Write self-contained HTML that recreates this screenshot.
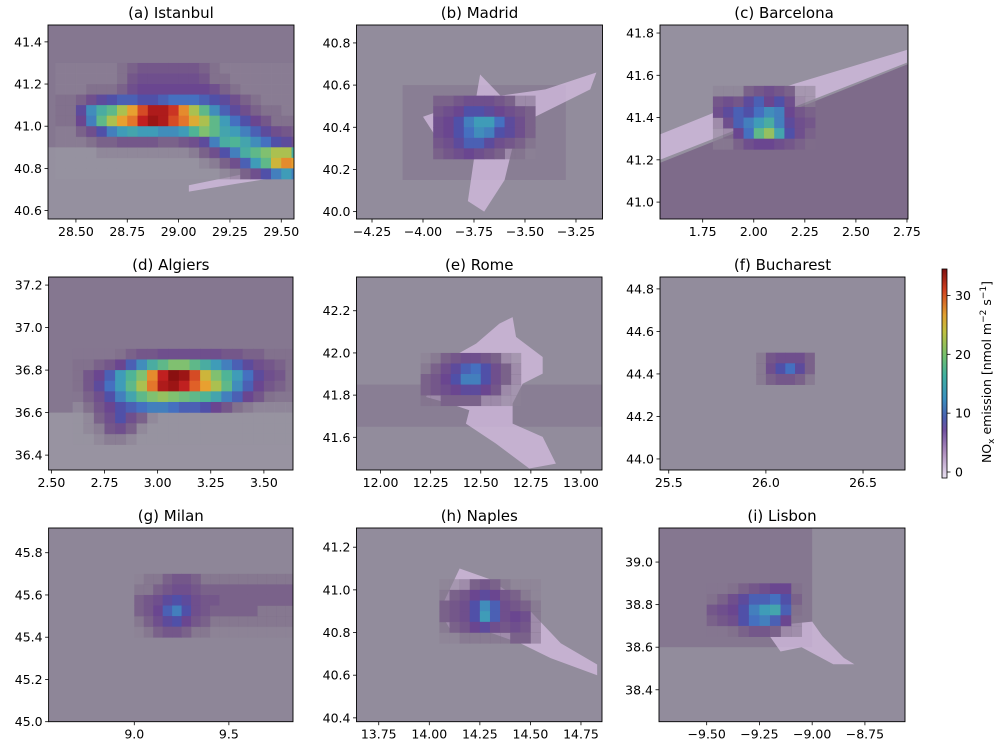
<!DOCTYPE html>
<html><head><meta charset="utf-8"><style>
html,body{margin:0;padding:0;background:#fff;}
svg{display:block;font-family:"DejaVu Sans","Liberation Sans",sans-serif;}
</style></head><body>
<svg id="fig" width="1004" height="750" viewBox="0 0 1004 750" xmlns="http://www.w3.org/2000/svg">
<defs>
<linearGradient id="cbgrad" x1="0" y1="1" x2="0" y2="0">
<stop offset="0" stop-color="#e8e0f0"/><stop offset="0.12" stop-color="#b090c0"/><stop offset="0.23" stop-color="#7050a0"/>
<stop offset="0.29" stop-color="#4a60b0"/><stop offset="0.38" stop-color="#3a90c0"/><stop offset="0.49" stop-color="#40b0a0"/>
<stop offset="0.58" stop-color="#70c070"/><stop offset="0.70" stop-color="#c0c040"/><stop offset="0.78" stop-color="#e0a030"/>
<stop offset="0.90" stop-color="#d04020"/><stop offset="1" stop-color="#801010"/>
</linearGradient>
</defs>
<g id="panels"></g>
<g id="colorbar"></g>
<text transform="translate(991,372) rotate(-90)" text-anchor="middle" font-size="12.5">NO<tspan font-size="9" dy="3">x</tspan><tspan dy="-3"> emission [nmol m</tspan><tspan font-size="9" dy="-5">−2</tspan><tspan dy="5"> s</tspan><tspan font-size="9" dy="-5">−1</tspan><tspan dy="5">]</tspan></text>
</svg>
<script>
// ---- data ----
const titles = ["(a) Istanbul","(b) Madrid","(c) Barcelona","(d) Algiers","(e) Rome","(f) Bucharest","(g) Milan","(h) Naples","(i) Lisbon"];
const xlims = [[28.364,29.562],[-4.326,-3.120],[1.541,2.755],[2.487,3.637],[11.88,13.105],[25.455,26.716],[8.547,9.839],[13.64,14.854],[-9.726,-8.56]];
const ylims = [[40.56,41.48],[39.965,40.885],[40.92,41.838],[36.33,37.238],[41.445,42.36],[43.948,44.856],[45.0,45.917],[40.382,41.29],[38.25,39.16]];
const xticks = [[28.5,28.75,29.0,29.25,29.5],[-4.25,-4.0,-3.75,-3.5,-3.25],[1.75,2.0,2.25,2.5,2.75],[2.5,2.75,3.0,3.25,3.5],[12.0,12.25,12.5,12.75,13.0],[25.5,26.0,26.5],[9.0,9.5],[13.75,14.0,14.25,14.5,14.75],[-9.5,-9.25,-9.0,-8.75]];
const xdec = [2,2,2,2,2,1,1,2,2];
const yticks = [[40.6,40.8,41.0,41.2,41.4],[40.0,40.2,40.4,40.6,40.8],[41.0,41.2,41.4,41.6,41.8],[36.4,36.6,36.8,37.0,37.2],[41.6,41.8,42.0,42.2],[44.0,44.2,44.4,44.6,44.8],[45.0,45.2,45.4,45.6,45.8],[40.4,40.6,40.8,41.0,41.2],[38.4,38.6,38.8,39.0]];
const bgValues = [1.2,1.5,1.2,1.0,1.5,1.5,1.8,1.5,1.5];
// zones: [lon0,lat0,lon1,lat1,value] (broad background)
const zones = [
 [[28.3,40.9,29.6,41.5,2.5]],
 [[-4.1,40.15,-3.3,40.6,2.2]],
 [],
 [[2.4,36.6,3.7,37.3,2.5]],
 [[11.8,41.65,13.2,41.85,2.2]],
 [],
 [],
 [],
 [[-9.8,38.6,-9.0,39.2,2.5]]
];
// sea polygons (lon,lat pairs) with value
const polys = [[],[],[[[1.50,41.17],[2.80,41.67],[2.80,40.90],[1.50,40.90]],3.2],[],[],[],[],[],[]];
// urban (light) patches, lon/lat vertices
const urbanIstanbul = [[[29.05,40.72],[29.3,40.77],[29.5,40.79],[29.56,40.77],[29.3,40.73],[29.05,40.69]]];
const urbanMadrid = [[[-3.75,40.48],[-3.72,40.65],[-3.62,40.55],[-3.40,40.58],[-3.15,40.66],[-3.18,40.58],[-3.45,40.45],[-3.55,40.35],[-3.60,40.15],[-3.70,40.0],[-3.78,40.05],[-3.75,40.25],[-3.90,40.30],[-4.0,40.45],[-3.85,40.50]]];
const urbanBarcelona = [[[1.54,41.20],[2.75,41.66],[2.75,41.72],[2.2,41.56],[1.9,41.46],[1.54,41.32]]];
const urbanRome = [[[12.327,41.965],[12.477,42.044],[12.593,42.139],[12.659,42.170],[12.676,42.076],[12.809,41.981],[12.809,41.902],[12.709,41.854],[12.659,41.760],[12.659,41.665],[12.809,41.602],[12.875,41.475],[12.742,41.452],[12.576,41.570],[12.426,41.665],[12.443,41.728],[12.343,41.760],[12.227,41.791],[12.260,41.854]]];
const urbanNaples = [[[14.15,41.10],[14.3,41.05],[14.45,40.95],[14.55,40.85],[14.65,40.75],[14.83,40.65],[14.83,40.60],[14.6,40.68],[14.45,40.75],[14.3,40.80],[14.1,40.82],[14.05,40.90]]];
const urbanLisbon = [[[-9.2,38.70],[-9.0,38.72],[-8.95,38.65],[-8.85,38.55],[-8.8,38.52],[-8.9,38.52],[-9.05,38.60],[-9.15,38.58],[-9.2,38.65]]];
const urbans = [urbanIstanbul,urbanMadrid,urbanBarcelona,[],urbanRome,[],[],urbanNaples,urbanLisbon];
const cellSize = 0.05;
const gridLon0 = [28.40,-3.95,1.80,2.60,12.20,25.95,9.00,14.05,-9.50];
const gridLatTop = [41.30,40.55,41.55,36.90,42.00,44.50,45.70,41.05,38.90];
const gridIstanbul = [
[2,2,2,2,2,2,3,4,5,5,5,5,5,5,4,3,2,2,2,2,2,2,2,2],
[2,2,2,2,2,2,3,5,6,6,6,6,6,6,5,3,3,2,2,2,2,2,2,2],
[2,2,2,3,3,3,4,6,7,7,7,7,7,7,7,6,4,3,2,2,2,2,2,2],
[3,3,4,6,8,9,10,10,9,9,10,11,11,11,10,9,8,6,4,3,2,2,2,2],
[3,3,8,13,16,18,22,26,30,33,33,31,27,22,18,13,10,8,6,4,3,3,2,2],
[3,3,7,12,18,22,26,28,32,34,33,30,28,25,22,18,14,11,9,7,5,3,3,3],
[2,2,4,6,9,12,14,15,14,14,13,13,14,17,20,18,15,14,12,10,8,6,5,4],
[2,2,2,3,4,4,5,5,5,5,4,4,5,6,8,12,16,17,15,13,11,9,8,6],
[1,1,1,1,2,2,2,2,2,2,2,2,2,3,4,6,9,12,16,18,20,22,22,16],
[1,1,1,1,1,1,1,1,1,1,1,1,1,1,2,3,4,6,10,14,18,24,27,26],
[1,1,1,1,1,1,1,1,1,1,1,1,1,1,1,1,2,3,4,6,9,12,14,12]];
const gridMadrid = [
[4,4,5,6,6,6,5,4,3,3],[5,6,7,9,9,8,7,6,5,4],[6,7,9,12,14,14,11,8,6,4],
[6,7,9,11,13,12,9,8,6,4],[5,6,8,10,10,8,6,5,4,3],[4,5,6,7,6,5,4,3,3,2]];
const gridBarcelona = [
[2,2,2,4,5,6,5,4,2,2],[5,6,5,8,10,7,9,6,3,2],[6,8,10,9,11,13,12,7,5,4],
[3,6,10,12,14,16,12,8,6,5],[2,3,7,11,18,21,15,9,6,4],[2,2,4,6,7,7,6,5,4,3]];
const gridAlgiers = [
[2.5,2.5,2.5,2.5,3,4,5,5,6,6,6,6,6,6,5,5,4,4,3,3,3],
[3,3,4,5,7,10,13,16,18,20,20,18,16,14,12,10,8,6,5,4,3],
[3,5,7,10,14,17,20,27,32,35,34,30,24,20,17,14,11,8,6,5,3],
[3,5,8,11,14,18,22,28,33,34,32,29,26,22,18,13,10,7,5,4,3],
[2.5,4,6,9,12,15,18,20,21,20,19,18,17,15,12,10,7,5,3,2.5,2.5],
[1,3,5,7,9,10,11,12,12,11,10,10,9,7,5,3,2,1,1,1,1],
[1,2,4,6,9,6,4,2,1,1,1,1,1,1,1,1,1,1,1,1,1],
[1,2,3,5,6,4,2,1,1,1,1,1,1,1,1,1,1,1,1,1,1],
[1,1,2,3,3,2,1,1,1,1,1,1,1,1,1,1,1,1,1,1,1]];
const gridRome = [
[2,3,4,5,6,6,5,4,3,2],[3,4,6,8,10,11,9,6,4,3],[4,5,7,9,12,12,9,6,4,3],
[4,5,6,7,8,8,7,5,3,2],[3,3,4,4,4,4,3,3,2,2]];
const gridBucharest = [[3,5,6,6,6,4],[3,6,9,11,8,4],[3,4,5,5,4,3]];
const gridMilan = [
[2,3,3,4,5,5,4,3,3,3,3,3,3,3,3,3,3],[3,3,4,5,6,6,5,4,4,4,4,4,4,4,4,4,4],
[4,5,6,8,9,8,6,5,5,4,4,4,4,4,4,4,4],[4,5,7,10,12,9,6,5,4,4,4,4,4,3,3,3,3],
[3,4,6,8,9,7,5,4,3,3,3,3,3,3,3,3,3],[2,3,4,5,5,4,3,3,2,2,2,2,2,2,2,2,2]];
const gridNaples = [
[2,2,3,4,5,4,3,2,2,2],[3,4,5,7,8,7,5,4,3,2],[4,5,6,9,13,10,6,5,4,3],
[4,5,6,9,14,10,6,7,6,3],[3,4,5,7,8,6,5,6,5,3],[2,2,3,3,3,3,3,4,4,3]];
const gridLisbon = [
[2.5,2.5,3,4,5,6,7,7,3],[3,4,6,8,10,10,11,9,4],[5,6,7,9,12,14,15,10,3],
[4,5,6,9,11,12,10,7,2.5],[2.5,2.5,3,4,5,5,4,3,2.5]];
const grids = [gridIstanbul,gridMadrid,gridBarcelona,gridAlgiers,gridRome,gridBucharest,gridMilan,gridNaples,gridLisbon];
const cbTicks = [0,10,20,30];
const cbMax = 34.5;

// ---- layout (pixels) ----
const boxes = [[48,25,294,219],[356.5,25,602.5,219],[660,25,908,219],
 [48.6,277,293,470],[356.5,277,602,470],[660,277,905,470],
 [48.6,528,293,721.7],[356.5,528,602,721.7],[659,528,905,721.7]];
const stops = [[0,[163,161,171]],[1.5,[146,140,156]],[3,[127,109,138]],[5,[116,87,138]],[7,[106,70,144]],[9,[80,80,168]],[11,[69,112,192]],[14,[63,156,184]],[17,[79,180,150]],[20,[128,192,112]],[23,[192,192,64]],[26,[232,160,48]],[29,[224,96,40]],[32,[192,32,32]],[35,[138,16,16]]];
function col(v){
  if(v<=stops[0][0]) return rgb(stops[0][1]);
  for(let i=1;i<stops.length;i++){ if(v<=stops[i][0]){const a=stops[i-1],b=stops[i],t=(v-a[0])/(b[0]-a[0]);
    return rgb(a[1].map((c,k)=>c+(b[1][k]-c)*t));}}
  return rgb(stops[stops.length-1][1]);
}
function rgb(c){return "rgb("+c.map(x=>Math.round(x)).join(",")+")";}
const NS="http://www.w3.org/2000/svg";
function mk(tag,attrs,parent){const e=document.createElementNS(NS,tag);for(const k in attrs)e.setAttribute(k,attrs[k]);parent.appendChild(e);return e;}
function fmt(v,d){const s=Math.abs(v).toFixed(d);return (v<0?"\u2212":"")+s;}
const root=document.getElementById("panels");
titles.forEach((title,p)=>{
  const [x0,y0,x1,y1]=boxes[p];
  const sx=v=>x0+(v-xlims[p][0])/(xlims[p][1]-xlims[p][0])*(x1-x0);
  const sy=v=>y1-(v-ylims[p][0])/(ylims[p][1]-ylims[p][0])*(y1-y0);
  const g=mk("g",{},root);
  
  
  const cp=mk("clipPath",{id:"cp"+p},g); mk("rect",{x:x0,y:y0,width:x1-x0,height:y1-y0},cp);
  const h=mk("g",{"clip-path":"url(#cp"+p+")"},g);
  
  
  mk("rect",{x:x0,y:y0,width:x1-x0,height:y1-y0,fill:col(bgValues[p])},h);
  zones[p].forEach(z=>{const r=mk("rect",{x:sx(z[0]),y:sy(z[3]),width:sx(z[2])-sx(z[0]),height:sy(z[1])-sy(z[3]),fill:col(z[4])},h);
    
    });
  if(polys[p].length){const pts=polys[p][0].map(q=>sx(q[0])+","+sy(q[1])).join(" ");
    const pl=mk("polygon",{points:pts,fill:col(polys[p][1])},h);
    
    }
  urbans[p].forEach(poly=>{const pts=poly.map(q=>sx(q[0])+","+sy(q[1])).join(" ");
    const u=mk("polygon",{points:pts,fill:"rgb(214,190,226)","fill-opacity":0.75},h);
    
    });
  grids[p].forEach((row,i)=>row.forEach((v,j)=>{
    const lon=gridLon0[p]+j*cellSize, latT=gridLatTop[p]-i*cellSize;
    const xa=sx(lon), xb=sx(lon+cellSize), ya=sy(latT), yb=sy(latT-cellSize);
    const c=mk("rect",{x:xa,y:ya,width:xb-xa+0.4,height:yb-ya+0.4,fill:col(v),"fill-opacity":v<4?0.55:1},h);
    
    
  }));
  const fr=mk("rect",{x:x0,y:y0,width:x1-x0,height:y1-y0,fill:"none",stroke:"#000","stroke-width":0.9},g);
  
  
  const t=mk("text",{x:(x0+x1)/2,y:y0-7,"text-anchor":"middle","font-size":15,fill:"#000"},g); t.textContent=title;
  
  
  xticks[p].forEach(v=>{const x=sx(v); mk("line",{x1:x,x2:x,y1:y1,y2:y1+3.5,stroke:"#000","stroke-width":0.8},g);
    const l=mk("text",{x:x,y:y1+17,"text-anchor":"middle","font-size":12.5,fill:"#000"},g); l.textContent=fmt(v,xdec[p]);
    
    });
  yticks[p].forEach(v=>{const y=sy(v); mk("line",{x1:x0-3.5,x2:x0,y1:y,y2:y,stroke:"#000","stroke-width":0.8},g);
    const l=mk("text",{x:x0-6,y:y+4.5,"text-anchor":"end","font-size":12.5,fill:"#000"},g); l.textContent=fmt(v,1);
    
    });
});
// colorbar
const cb=document.getElementById("colorbar");
const cx0=942,cx1=947,cy0=269,cy1=478;
const cy=v=>cy1-6-(v/cbMax)*(cy1-6-cy0);
mk("rect",{x:cx0,y:cy0,width:cx1-cx0,height:cy1-cy0,fill:"url(#cbgrad)",stroke:"#000","stroke-width":0.8},cb);
cbTicks.forEach(v=>{const y=cy(v); mk("line",{x1:cx1,x2:cx1+3.5,y1:y,y2:y,stroke:"#000","stroke-width":0.8},cb);
  const l=mk("text",{x:cx1+8,y:y+4.5,"font-size":12.5,fill:"#000"},cb); l.textContent=String(v);
  
  });
</script>
</body></html>
